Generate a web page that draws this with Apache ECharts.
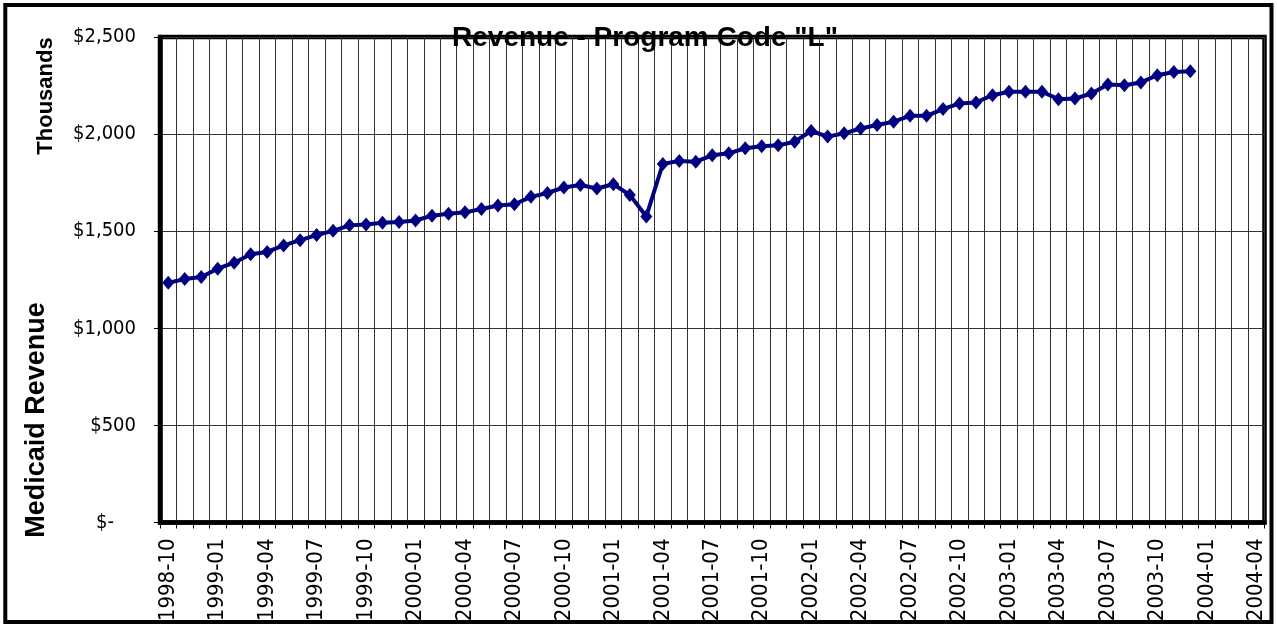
<!DOCTYPE html>
<html>
<head>
<meta charset="utf-8">
<script src="https://cdn.jsdelivr.net/npm/echarts@6/dist/echarts.min.js"></script>
<style>
  html, body { margin: 0; padding: 0; background: #fff; }
  #main { width: 1277px; height: 629px; }
</style>
</head>
<body>
<div id="main"></div>
<script>
// months on the x axis (labels every 3rd)
var months = [
  '1998-10', '1998-11', '1998-12',
  '1999-01', '1999-02', '1999-03', '1999-04', '1999-05', '1999-06',
  '1999-07', '1999-08', '1999-09', '1999-10', '1999-11', '1999-12',
  '2000-01', '2000-02', '2000-03', '2000-04', '2000-05', '2000-06',
  '2000-07', '2000-08', '2000-09', '2000-10', '2000-11', '2000-12',
  '2001-01', '2001-02', '2001-03', '2001-04', '2001-05', '2001-06',
  '2001-07', '2001-08', '2001-09', '2001-10', '2001-11', '2001-12',
  '2002-01', '2002-02', '2002-03', '2002-04', '2002-05', '2002-06',
  '2002-07', '2002-08', '2002-09', '2002-10', '2002-11', '2002-12',
  '2003-01', '2003-02', '2003-03', '2003-04', '2003-05', '2003-06',
  '2003-07', '2003-08', '2003-09', '2003-10', '2003-11', '2003-12',
  '2004-01', '2004-02', '2004-03', '2004-04'
]
// medicaid revenue, thousands of $ (1998-10 .. 2003-12)
var revenue = [
  1234, 1254, 1264, 1307, 1338, 1381, 1393, 1427, 1454, 1480,
  1502, 1530, 1535, 1543, 1547, 1555, 1580, 1590, 1597, 1614,
  1632, 1639, 1677, 1697, 1725, 1738, 1720, 1742, 1687, 1576,
  1846, 1862, 1858, 1891, 1901, 1927, 1937, 1942, 1961, 2016,
  1987, 2004, 2029, 2047, 2064, 2094, 2094, 2129, 2158, 2163,
  2200, 2218, 2218, 2218, 2180, 2183, 2209, 2255, 2252, 2266,
  2303, 2320, 2324
]
var yMin = 0
var yMax = 2500
var yStep = 500

var narrow = '"Liberation Sans Narrow", "Arial Narrow", "DejaVu Sans Condensed", sans-serif'
var boldFam = '"Liberation Sans", Arial, sans-serif'

var chart = echarts.init(document.getElementById('main'))
chart.setOption({
  animation: false,
  backgroundColor: '#fff',
  grid: {
    left: 160,
    right: 12.5,
    top: 37,
    bottom: 106.5,
    show: true,
    borderColor: '#000',
    borderWidth: 4.5,
    backgroundColor: '#fff'
  },
  xAxis: {
    type: 'category',
    data: months,
    boundaryGap: true,
    axisLine: { show: true, lineStyle: { color: '#000', width: 4.5 } },
    axisTick: { show: true, interval: 0, length: 6, lineStyle: { color: '#000', width: 1 } },
    axisLabel: {
      interval: 2,
      rotate: 90,
      margin: 16,
      color: '#000',
      fontSize: 22,
      fontFamily: narrow
    },
    splitLine: { show: true, interval: 0, lineStyle: { color: '#333', width: 1 } }
  },
  yAxis: {
    type: 'value',
    min: yMin,
    max: yMax,
    interval: yStep,
    axisLine: { show: true, lineStyle: { color: '#000', width: 4.5 } },
    axisTick: { show: true, length: 6, lineStyle: { color: '#000', width: 1 } },
    axisLabel: {
      margin: 24,
      color: '#000',
      fontSize: 20,
      fontFamily: narrow,
      formatter: function (v) {
        if (v === 0) return '{z|$-}'
        return '$' + v.toLocaleString('en-US')
      },
      rich: {
        z: { fontSize: 20, fontFamily: narrow, color: '#000', padding: [0, 22, 0, 0] }
      }
    },
    splitLine: { show: true, lineStyle: { color: '#333', width: 1 } }
  },
  graphic: [
    {
      type: 'rect',
      silent: true,
      z: 100,
      shape: { x: 5.3, y: 5, width: 1266.2, height: 617 },
      style: { fill: 'none', stroke: '#000', lineWidth: 4 }
    },
    {
      type: 'text',
      z: 100,
      x: 645,
      y: 38,
      style: {
        text: 'Revenue - Program Code "L"',
        fill: '#000',
        fontSize: 28,
        fontWeight: 'bold',
        fontFamily: boldFam,
        align: 'center',
        verticalAlign: 'middle'
      }
    },
    {
      type: 'text',
      z: 100,
      x: 46,
      y: 96,
      rotation: Math.PI / 2,
      style: {
        text: 'Thousands',
        fill: '#000',
        fontSize: 22,
        fontWeight: 'bold',
        fontFamily: boldFam,
        align: 'center',
        verticalAlign: 'middle'
      }
    },
    {
      type: 'text',
      z: 100,
      x: 37,
      y: 420,
      rotation: Math.PI / 2,
      style: {
        text: 'Medicaid Revenue',
        fill: '#000',
        fontSize: 27,
        fontWeight: 'bold',
        fontFamily: boldFam,
        align: 'center',
        verticalAlign: 'middle'
      }
    }
  ],
  series: [{
    type: 'line',
    data: revenue,
    symbol: 'diamond',
    symbolSize: [12, 14],
    showAllSymbol: true,
    lineStyle: { color: '#000080', width: 4 },
    itemStyle: { color: '#000080' },
    z: 5
  }]
})
</script>
</body>
</html>
